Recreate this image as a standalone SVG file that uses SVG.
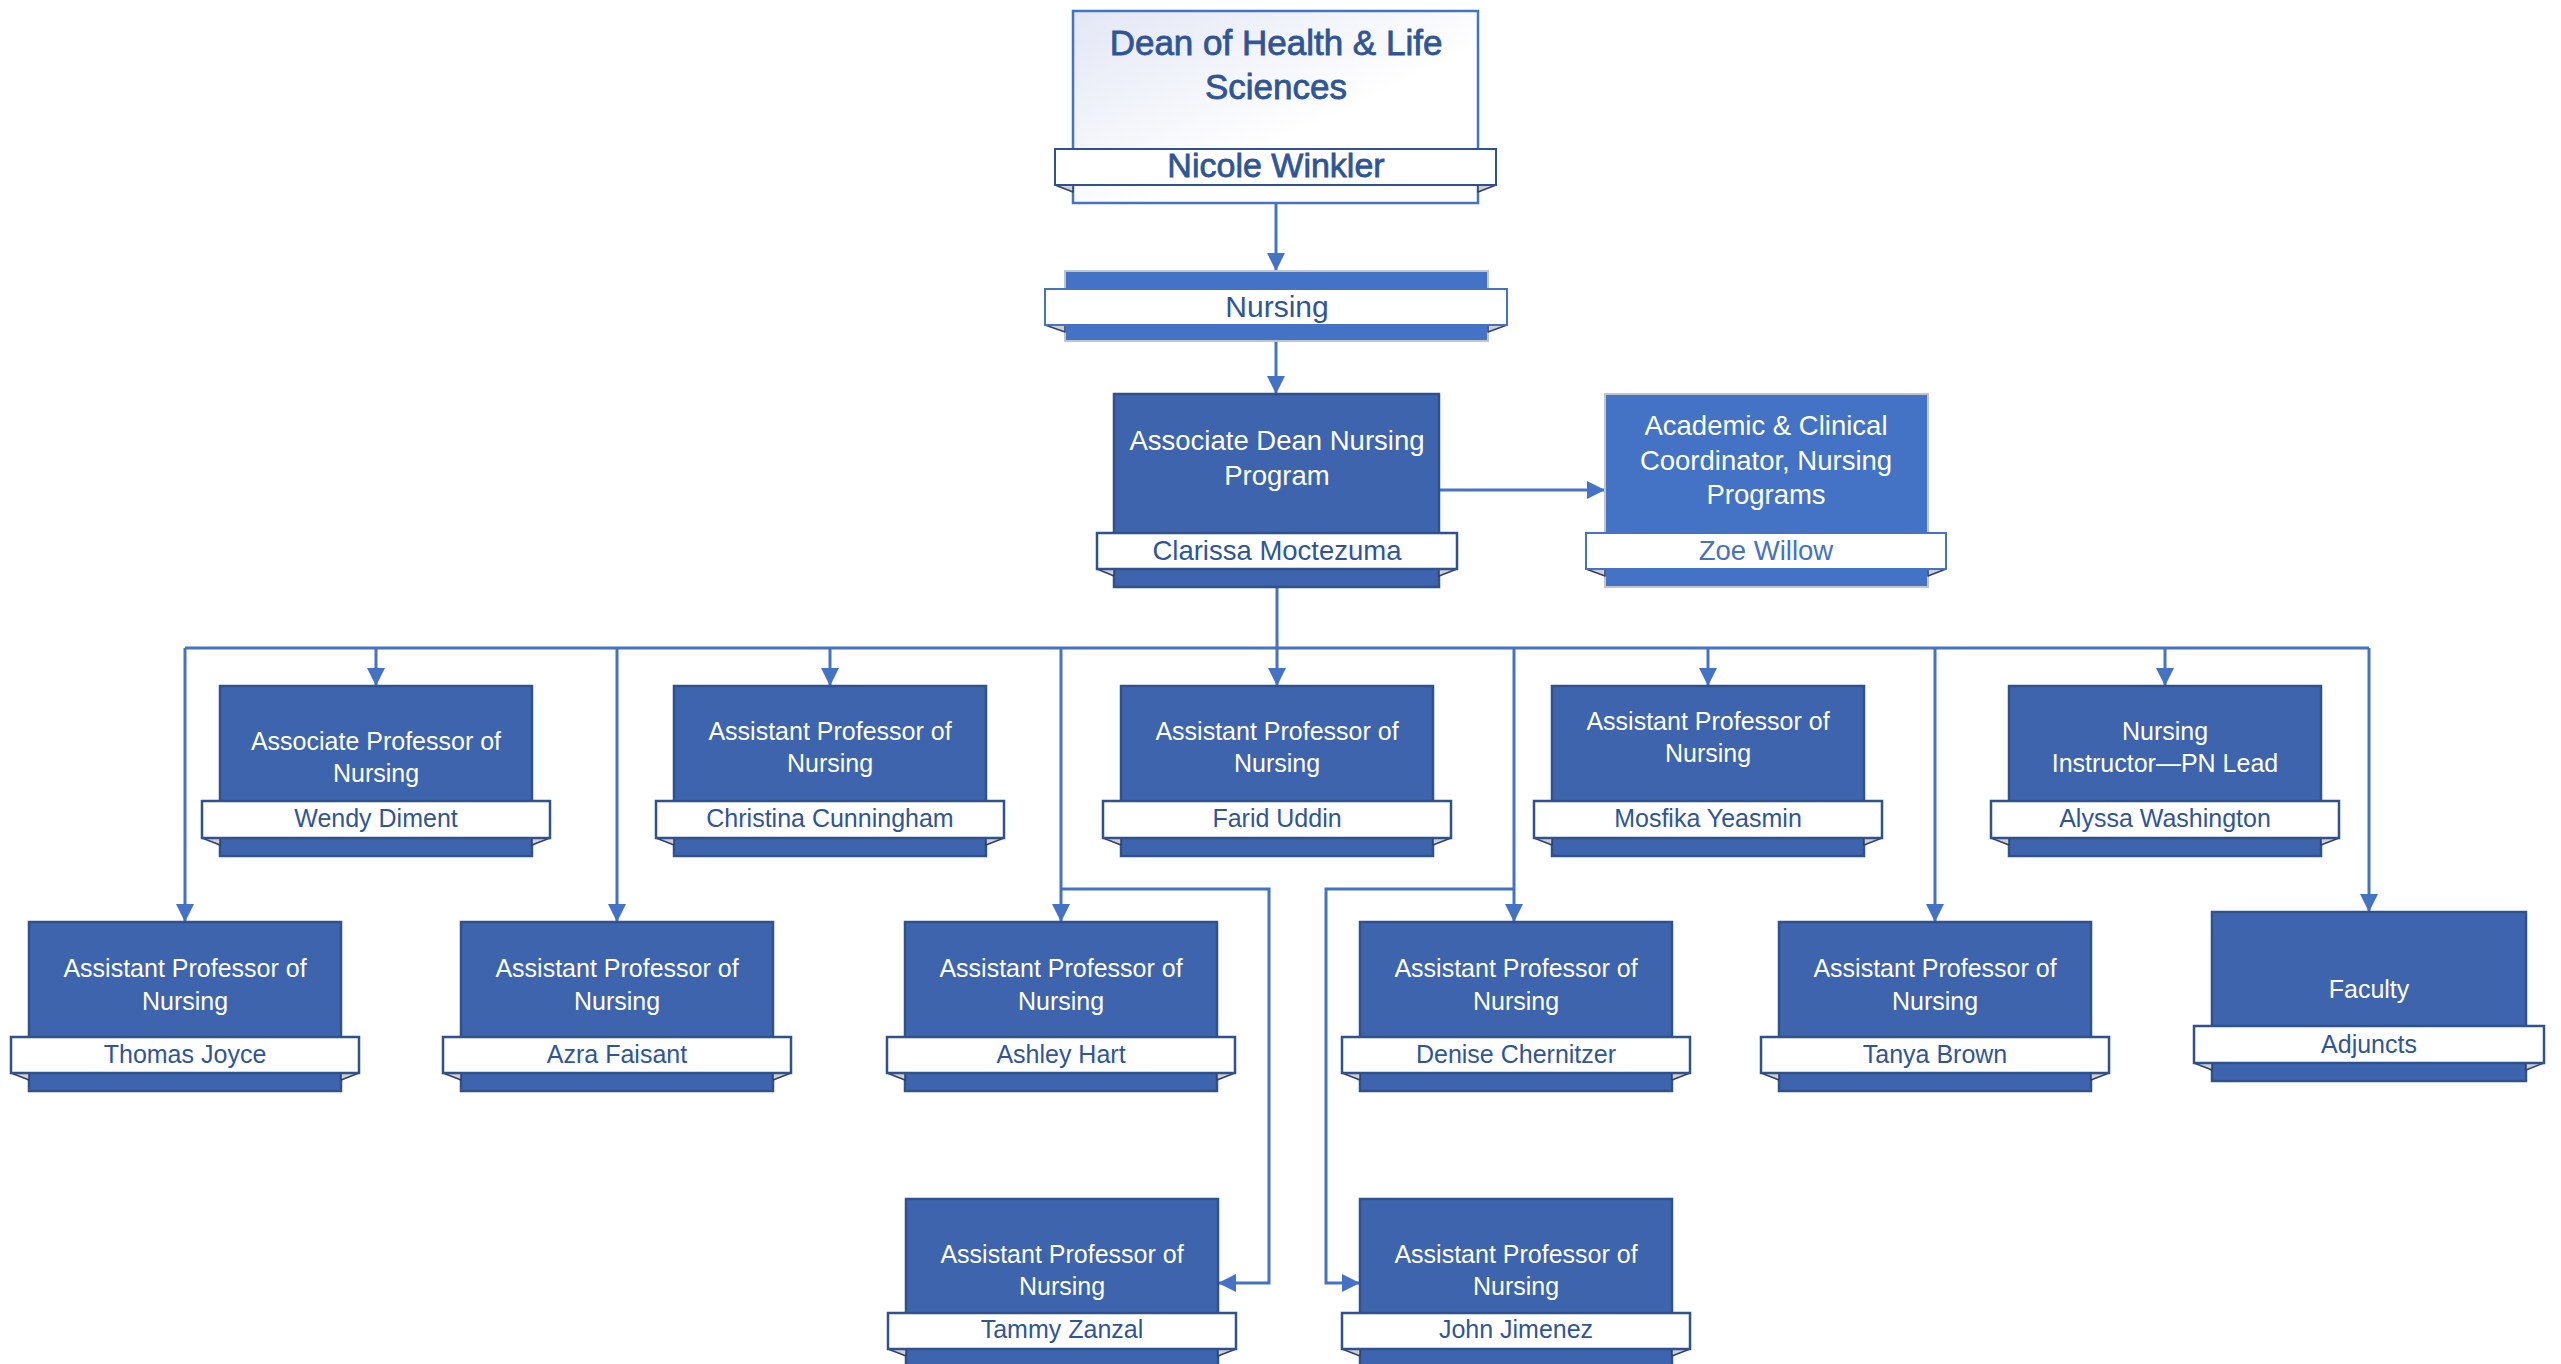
<svg xmlns="http://www.w3.org/2000/svg" width="2561" height="1364" viewBox="0 0 2561 1364">
<defs>
<linearGradient id="deanGrad" x1="0" y1="0" x2="1" y2="1">
<stop offset="0" stop-color="#e3e7f5"/>
<stop offset="0.6" stop-color="#ffffff"/>
</linearGradient>
<marker id="arr" markerUnits="userSpaceOnUse" markerWidth="18" markerHeight="18" refX="18" refY="9" orient="auto">
<path d="M0,0 L18,9 L0,18 z" fill="#4472c4"/>
</marker>
<style>
.box{fill:#3e64ad;stroke:#2f528f;stroke-width:2.5}
.boxl{fill:#4472c4;stroke:#c0c4cc;stroke-width:2}
.ban{fill:#ffffff;stroke:#2f528f;stroke-width:2.5}
.banl{fill:#ffffff;stroke:#4472c4;stroke-width:2}
.fold{fill:#cfcfcf;stroke:#2f3f6f;stroke-width:1.5;stroke-linejoin:round}
.t{font-family:"Liberation Sans",Arial,sans-serif;font-size:25px;fill:#ffffff;text-anchor:middle}
.n{font-family:"Liberation Sans",Arial,sans-serif;font-size:25px;fill:#2f5597;text-anchor:middle}
.big{font-size:27.5px}
.hd{font-family:"Liberation Sans",Arial,sans-serif;fill:#2f5597;stroke:#2f5597;stroke-width:0.8;text-anchor:middle}
.c{fill:none;stroke:#4472c4;stroke-width:3}
.ca{fill:none;stroke:#4472c4;stroke-width:3;marker-end:url(#arr)}
</style>
</defs>

<g id="connectors">
<path class="ca" d="M1276,203 L1276,271"/>
<path class="ca" d="M1276,341 L1276,394"/>
<path class="ca" d="M1439,490 L1605,490"/>
<path class="c" d="M1277,587 L1277,648"/>
<path class="c" d="M185,648 L2369,648"/>
<path class="ca" d="M185,648 L185,922"/>
<path class="ca" d="M376,648 L376,686"/>
<path class="ca" d="M617,648 L617,922"/>
<path class="ca" d="M830,648 L830,686"/>
<path class="ca" d="M1061,648 L1061,922"/>
<path class="ca" d="M1277,648 L1277,686"/>
<path class="ca" d="M1514,648 L1514,922"/>
<path class="ca" d="M1708,648 L1708,686"/>
<path class="ca" d="M1935,648 L1935,922"/>
<path class="ca" d="M2165,648 L2165,686"/>
<path class="ca" d="M2369,648 L2369,912"/>
<path class="ca" d="M1061,889 L1269,889 L1269,1283 L1218,1283"/>
<path class="ca" d="M1514,889 L1326,889 L1326,1283 L1360,1283"/>
</g>

<g id="dean">
<rect x="1073" y="11" width="405" height="192" fill="url(#deanGrad)" stroke="#4472c4" stroke-width="2.5"/>
<polygon class="fold" points="1055,185 1073,185 1073,192"/>
<polygon class="fold" points="1496,185 1478,185 1478,192"/>
<rect x="1055" y="149" width="441" height="36" fill="#ffffff" stroke="#2f528f" stroke-width="2"/>
<text class="hd" x="1276" y="55" font-size="35">Dean of Health &amp; Life</text>
<text class="hd" x="1276" y="99" font-size="35">Sciences</text>
<text class="hd" x="1276" y="177" font-size="34">Nicole Winkler</text>
</g>

<g id="nursing">
<rect class="boxl" x="1065" y="271" width="423" height="70"/>
<polygon class="fold" points="1045,325 1065,325 1065,332"/>
<polygon class="fold" points="1507,325 1488,325 1488,332"/>
<rect class="banl" x="1045" y="289" width="462" height="36"/>
<text x="1277" y="317" font-family="Liberation Sans, Arial, sans-serif" font-size="30" fill="#2f5597" text-anchor="middle">Nursing</text>
</g>

<g id="assoc-dean">
<rect class="box" x="1114" y="394" width="325" height="193"/>
<polygon class="fold" points="1097,569 1114,569 1114,576"/>
<polygon class="fold" points="1457,569 1439,569 1439,576"/>
<rect class="ban" x="1097" y="533" width="360" height="36"/>
<text class="t big" x="1277" y="450">Associate Dean Nursing</text>
<text class="t big" x="1277" y="485">Program</text>
<text class="n big" x="1277" y="560">Clarissa Moctezuma</text>
</g>

<g id="coordinator">
<rect class="boxl" x="1605" y="394" width="323" height="193"/>
<polygon class="fold" points="1586,569 1605,569 1605,576"/>
<polygon class="fold" points="1946,569 1928,569 1928,576"/>
<rect class="banl" x="1586" y="533" width="360" height="36"/>
<text class="t big" x="1766" y="435">Academic &amp; Clinical</text>
<text class="t big" x="1766" y="470">Coordinator, Nursing</text>
<text class="t big" x="1766" y="504">Programs</text>
<text class="n big" x="1766" y="560" style="fill:#4472c4">Zoe Willow</text>
</g>

<g id="wendy">
<rect class="box" x="220" y="686" width="312" height="170"/>
<polygon class="fold" points="202,838 220,838 220,845"/>
<polygon class="fold" points="550,838 532,838 532,845"/>
<rect class="ban" x="202" y="801" width="348" height="37"/>
<text class="t" x="376" y="750">Associate Professor of</text>
<text class="t" x="376" y="782">Nursing</text>
<text class="n" x="376" y="827">Wendy Diment</text>
</g>

<g id="christina">
<rect class="box" x="674" y="686" width="312" height="170"/>
<polygon class="fold" points="656,838 674,838 674,845"/>
<polygon class="fold" points="1004,838 986,838 986,845"/>
<rect class="ban" x="656" y="801" width="348" height="37"/>
<text class="t" x="830" y="740">Assistant Professor of</text>
<text class="t" x="830" y="772">Nursing</text>
<text class="n" x="830" y="827">Christina Cunningham</text>
</g>

<g id="farid">
<rect class="box" x="1121" y="686" width="312" height="170"/>
<polygon class="fold" points="1103,838 1121,838 1121,845"/>
<polygon class="fold" points="1451,838 1433,838 1433,845"/>
<rect class="ban" x="1103" y="801" width="348" height="37"/>
<text class="t" x="1277" y="740">Assistant Professor of</text>
<text class="t" x="1277" y="772">Nursing</text>
<text class="n" x="1277" y="827">Farid Uddin</text>
</g>

<g id="mosfika">
<rect class="box" x="1552" y="686" width="312" height="170"/>
<polygon class="fold" points="1534,838 1552,838 1552,845"/>
<polygon class="fold" points="1882,838 1864,838 1864,845"/>
<rect class="ban" x="1534" y="801" width="348" height="37"/>
<text class="t" x="1708" y="730">Assistant Professor of</text>
<text class="t" x="1708" y="762">Nursing</text>
<text class="n" x="1708" y="827">Mosfika Yeasmin</text>
</g>

<g id="alyssa">
<rect class="box" x="2009" y="686" width="312" height="170"/>
<polygon class="fold" points="1991,838 2009,838 2009,845"/>
<polygon class="fold" points="2339,838 2321,838 2321,845"/>
<rect class="ban" x="1991" y="801" width="348" height="37"/>
<text class="t" x="2165" y="740">Nursing</text>
<text class="t" x="2165" y="772">Instructor—PN Lead</text>
<text class="n" x="2165" y="827">Alyssa Washington</text>
</g>

<g id="thomas">
<rect class="box" x="29" y="922" width="312" height="169"/>
<polygon class="fold" points="11,1073 29,1073 29,1080"/>
<polygon class="fold" points="359,1073 341,1073 341,1080"/>
<rect class="ban" x="11" y="1037" width="348" height="36"/>
<text class="t" x="185" y="977">Assistant Professor of</text>
<text class="t" x="185" y="1010">Nursing</text>
<text class="n" x="185" y="1063">Thomas Joyce</text>
</g>

<g id="azra">
<rect class="box" x="461" y="922" width="312" height="169"/>
<polygon class="fold" points="443,1073 461,1073 461,1080"/>
<polygon class="fold" points="791,1073 773,1073 773,1080"/>
<rect class="ban" x="443" y="1037" width="348" height="36"/>
<text class="t" x="617" y="977">Assistant Professor of</text>
<text class="t" x="617" y="1010">Nursing</text>
<text class="n" x="617" y="1063">Azra Faisant</text>
</g>

<g id="ashley">
<rect class="box" x="905" y="922" width="312" height="169"/>
<polygon class="fold" points="887,1073 905,1073 905,1080"/>
<polygon class="fold" points="1235,1073 1217,1073 1217,1080"/>
<rect class="ban" x="887" y="1037" width="348" height="36"/>
<text class="t" x="1061" y="977">Assistant Professor of</text>
<text class="t" x="1061" y="1010">Nursing</text>
<text class="n" x="1061" y="1063">Ashley Hart</text>
</g>

<g id="denise">
<rect class="box" x="1360" y="922" width="312" height="169"/>
<polygon class="fold" points="1342,1073 1360,1073 1360,1080"/>
<polygon class="fold" points="1690,1073 1672,1073 1672,1080"/>
<rect class="ban" x="1342" y="1037" width="348" height="36"/>
<text class="t" x="1516" y="977">Assistant Professor of</text>
<text class="t" x="1516" y="1010">Nursing</text>
<text class="n" x="1516" y="1063">Denise Chernitzer</text>
</g>

<g id="tanya">
<rect class="box" x="1779" y="922" width="312" height="169"/>
<polygon class="fold" points="1761,1073 1779,1073 1779,1080"/>
<polygon class="fold" points="2109,1073 2091,1073 2091,1080"/>
<rect class="ban" x="1761" y="1037" width="348" height="36"/>
<text class="t" x="1935" y="977">Assistant Professor of</text>
<text class="t" x="1935" y="1010">Nursing</text>
<text class="n" x="1935" y="1063">Tanya Brown</text>
</g>

<g id="faculty">
<rect class="box" x="2212" y="912" width="314" height="169"/>
<polygon class="fold" points="2194,1063 2212,1063 2212,1070"/>
<polygon class="fold" points="2544,1063 2526,1063 2526,1070"/>
<rect class="ban" x="2194" y="1026" width="350" height="37"/>
<text class="t" x="2369" y="998">Faculty</text>
<text class="n" x="2369" y="1053">Adjuncts</text>
</g>

<g id="tammy">
<rect class="box" x="906" y="1199" width="312" height="168"/>
<polygon class="fold" points="888,1349 906,1349 906,1356"/>
<polygon class="fold" points="1236,1349 1218,1349 1218,1356"/>
<rect class="ban" x="888" y="1313" width="348" height="36"/>
<text class="t" x="1062" y="1263">Assistant Professor of</text>
<text class="t" x="1062" y="1295">Nursing</text>
<text class="n" x="1062" y="1338">Tammy Zanzal</text>
</g>

<g id="john">
<rect class="box" x="1360" y="1199" width="312" height="168"/>
<polygon class="fold" points="1342,1349 1360,1349 1360,1356"/>
<polygon class="fold" points="1690,1349 1672,1349 1672,1356"/>
<rect class="ban" x="1342" y="1313" width="348" height="36"/>
<text class="t" x="1516" y="1263">Assistant Professor of</text>
<text class="t" x="1516" y="1295">Nursing</text>
<text class="n" x="1516" y="1338">John Jimenez</text>
</g>
</svg>
